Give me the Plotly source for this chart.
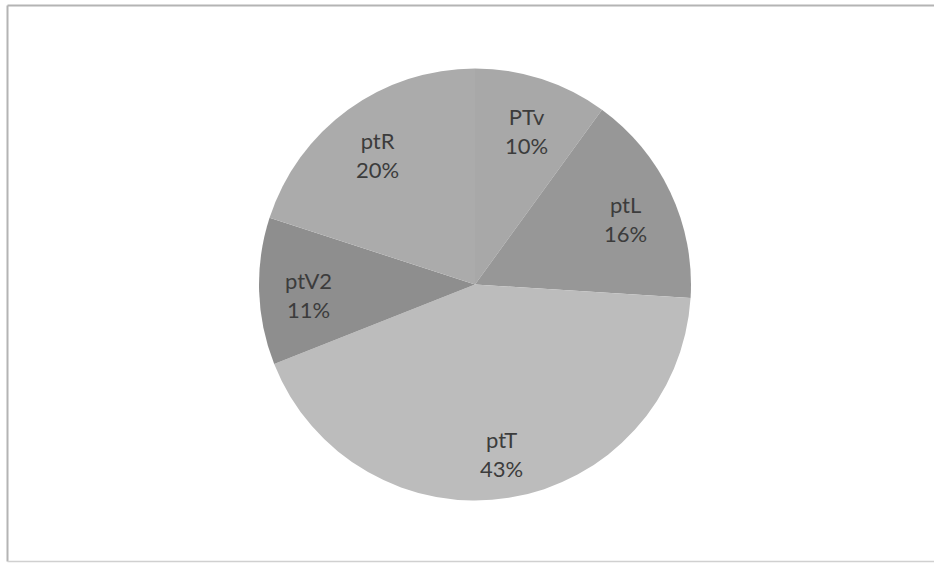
import math
import plotly.graph_objects as go

labels = ["PTv", "ptL", "ptT", "ptV2", "ptR"]
values = [10, 16, 43, 11, 20]
colors = ["#a8a8a8", "#979797", "#bcbcbc", "#8e8e8e", "#ababab"]

W, H = 934, 563
cx, cy, r = 475, 284.5, 216  # pie centre and radius in pixels
dom_y = [1 - (cy + r) / H, 1 - (cy - r) / H]
half = 0.2 + r / W
dom_x = [cx / W - half, cx / W + half]

fig = go.Figure(go.Pie(
    labels=labels,
    values=values,
    sort=False,
    direction="clockwise",
    rotation=0,
    marker=dict(colors=colors, line=dict(width=0)),
    textinfo="none",
    domain=dict(x=dom_x, y=dom_y),
    showlegend=False,
    hoverinfo="label+percent",
))

# data labels placed along each slice's mid-angle
total = sum(values)
label_frac = 0.77
annotations = []
acc = 0
for lab, v in zip(labels, values):
    mid = (acc + v / 2) / total * 2 * math.pi
    acc += v
    x = cx + label_frac * r * math.sin(mid)
    y = cy - label_frac * r * math.cos(mid)
    annotations.append(dict(
        x=x / W, y=1 - y / H, xref="paper", yref="paper",
        text=f"{lab}<br>{round(v / total * 100)}%",
        showarrow=False, xanchor="center", yanchor="middle", yshift=-5,
        font=dict(family="Lato, Open Sans, sans-serif", size=22, color="#3c3c3c"),
    ))

def px(x): return x / W
def py(y): return 1 - y / H

line = dict(color="#b4b4b4", width=2)
fig.update_layout(
    width=W, height=H,
    margin=dict(l=0, r=0, t=0, b=0),
    paper_bgcolor="white",
    plot_bgcolor="white",
    annotations=annotations,
    shapes=[
        dict(type="line", xref="paper", yref="paper", x0=px(7.5), x1=1, y0=py(5.5), y1=py(5.5), line=line),
        dict(type="line", xref="paper", yref="paper", x0=px(7.5), x1=px(7.5), y0=py(5.5), y1=py(561.5), line=line),
        dict(type="line", xref="paper", yref="paper", x0=px(7.5), x1=1, y0=py(561.5), y1=py(561.5), line=dict(color="#d0d0d0", width=1.5)),
    ],
)

fig.write_html("out.html", config={"displayModeBar": False})

with open("out.html", "r", encoding="utf-8") as f:
    html = f.read()
html = html.replace("<body>", '<body style="margin:0;padding:0;overflow:hidden">', 1)
with open("out.html", "w", encoding="utf-8") as f:
    f.write(html)
